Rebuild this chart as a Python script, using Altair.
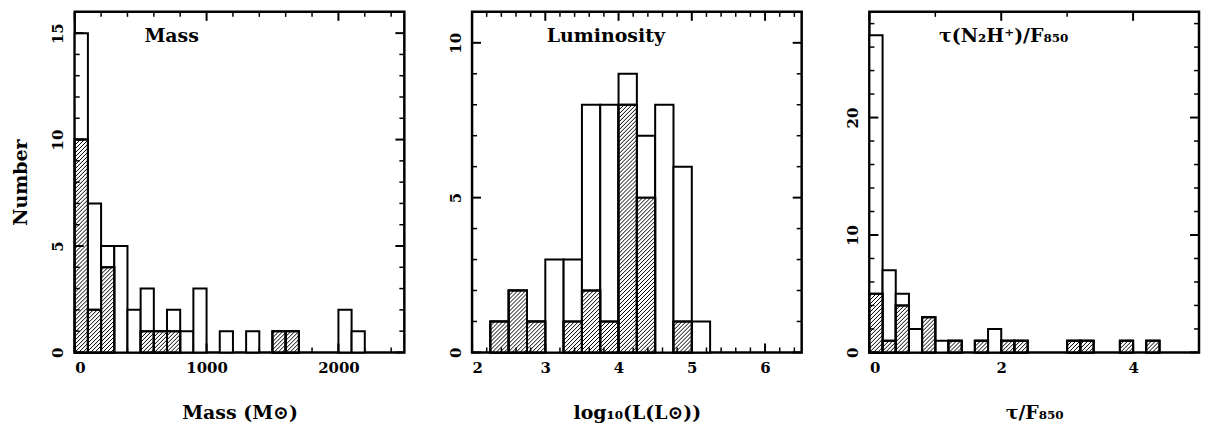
import altair as alt
import pandas as pd
import numpy as np

# ---------------- data ----------------
# Mass histogram (bin width 100 Msun)
mass_bins = [0, 100, 200, 300, 400, 500, 600, 700, 800, 900, 1100, 1300, 1500, 1600, 2000, 2100]
mass_total = [15, 7, 5, 5, 2, 3, 1, 2, 1, 3, 1, 1, 1, 1, 2, 1]
mass_hatch_bins = [0, 100, 200, 500, 600, 700, 1500, 1600]
mass_hatch = [10, 2, 4, 1, 1, 1, 1, 1]

# Luminosity histogram (bin width 0.25 dex)
lum_bins = [2.25, 2.5, 2.75, 3.0, 3.25, 3.5, 3.75, 4.0, 4.25, 4.5, 4.75, 5.0]
lum_total = [1, 2, 1, 3, 3, 8, 8, 9, 7, 8, 6, 1]
lum_hatch = [1, 2, 1, 0, 1, 2, 1, 8, 5, 0, 1, 0]

# tau(N2H+)/F850 histogram (bin width 0.2)
tau_bins = [0, 0.2, 0.4, 0.6, 0.8, 1.0, 1.2, 1.6, 1.8, 2.0, 2.2, 3.0, 3.2, 3.8, 4.2]
tau_total = [27, 7, 5, 2, 3, 1, 1, 1, 2, 1, 1, 1, 1, 1, 1]
tau_hatch = [5, 1, 4, 0, 3, 0, 1, 1, 0, 1, 1, 1, 1, 1, 1]

# axis labels / ticks
mass_xlabels = [0, 1000, 2000]
mass_xminor = [200, 400, 600, 800, 1200, 1400, 1600, 1800, 2200, 2400]
mass_ylabels = [0, 5, 10, 15]
mass_yminor = [1, 2, 3, 4, 6, 7, 8, 9, 11, 12, 13, 14, 16]

lum_xlabels = [2, 3, 4, 5, 6]
lum_xminor = [2.2, 2.4, 2.6, 2.8, 3.2, 3.4, 3.6, 3.8, 4.2, 4.4, 4.6, 4.8, 5.2, 5.4, 5.6, 5.8, 6.2, 6.4]
lum_ylabels = [0, 5, 10]
lum_yminor = [1, 2, 3, 4, 6, 7, 8, 9, 11]

tau_xlabels = [0, 2, 4]
tau_xminor = [1, 3]
tau_ylabels = [0, 10, 20]
tau_yminor = [2, 4, 6, 8, 12, 14, 16, 18, 22, 24, 26, 28]

FONT = "DejaVu Serif"
W, H = 331, 342
MAJ, MIN = 9, 5


def bars(starts, counts, width):
    df = pd.DataFrame({"x0": starts, "n": counts})
    df["x1"] = df["x0"] + width
    df["base"] = 0
    return df[df["n"] > 0]


def hatch_segments(df, xdom, ydom, spacing=4.0):
    pxx = W / (xdom[1] - xdom[0])
    pxy = H / (ydom[1] - ydom[0])
    rows = []
    for _, r in df.iterrows():
        L = (r["x0"] - xdom[0]) * pxx
        R = (r["x1"] - xdom[0]) * pxx
        T = r["n"] * pxy
        kmin = int(np.floor(-R / spacing))
        kmax = int(np.ceil((T - L) / spacing))
        for k in range(kmin, kmax + 1):
            d = k * spacing
            xs = max(L, -d)
            xe = min(R, T - d)
            if xe - xs > 0.3:
                rows.append({
                    "xa": xs / pxx + xdom[0], "ya": (xs + d) / pxy,
                    "xb": xe / pxx + xdom[0], "yb": (xe + d) / pxy,
                })
    return pd.DataFrame(rows)


def panel(starts, total, hstarts, hcounts, width, xdom, ydom, xlabels, xminor,
          ylabels, yminor, xtitle, ytitle, label, label_x):
    xs = alt.Scale(domain=xdom, nice=False, zero=False)
    ys = alt.Scale(domain=ydom, nice=False, zero=False)
    xax = alt.Axis(values=xlabels, format="d", title=xtitle)
    if ytitle:
        yax = alt.Axis(values=ylabels, format="d", title=ytitle)
    else:
        yax = alt.Axis(values=ylabels, format="d", title=None)

    def X(f):
        return alt.X(f, scale=xs, axis=xax)

    def Y(f):
        return alt.Y(f, scale=ys, axis=yax)

    tdf = bars(starts, total, width)
    hdf = bars(hstarts, hcounts, width)
    seg = hatch_segments(hdf, xdom, ydom)

    tot = alt.Chart(tdf).mark_rect(fill="white", stroke="black", strokeWidth=2).encode(
        x=X("x0:Q"), x2="x1:Q", y=Y("base:Q"), y2="n:Q",
    )
    hrect = alt.Chart(hdf).mark_rect(fill="white", stroke="black", strokeWidth=2).encode(
        x=X("x0:Q"), x2="x1:Q", y=Y("base:Q"), y2="n:Q",
    )
    hlines = alt.Chart(seg).mark_rule(color="black", strokeWidth=1).encode(
        x=X("xa:Q"), x2="xb:Q", y=Y("ya:Q"), y2="yb:Q",
    )
    hout = alt.Chart(hdf).mark_rect(fill="transparent", stroke="black", strokeWidth=2).encode(
        x=X("x0:Q"), x2="x1:Q", y=Y("base:Q"), y2="n:Q",
    )
    txt = alt.Chart(pd.DataFrame({"t": [label]})).mark_text(
        align="left", baseline="alphabetic", font=FONT, fontSize=19, fontWeight="bold", color="black"
    ).encode(x=alt.value(label_x), y=alt.value(30), text="t:N")

    def ticks(vals, channel, length):
        df = pd.DataFrame({"v": vals})
        base = alt.Chart(df).mark_rule(color="black", strokeWidth=2 if length == MAJ else 1.5)
        if channel == "x":
            return [
                base.encode(x=X("v:Q"), y=alt.value(H), y2=alt.value(H - length)),
                base.encode(x=X("v:Q"), y=alt.value(0), y2=alt.value(length)),
            ]
        return [
            base.encode(y=Y("v:Q"), x=alt.value(0), x2=alt.value(length)),
            base.encode(y=Y("v:Q"), x=alt.value(W), x2=alt.value(W - length)),
        ]

    layers = [tot, hrect, hlines, hout]
    layers += ticks(xlabels, "x", MAJ)
    layers += ticks(xminor, "x", MIN)
    layers += ticks(ylabels, "y", MAJ)
    layers += ticks(yminor, "y", MIN)
    layers.append(txt)
    return alt.layer(*layers).properties(width=W, height=H)


p1 = panel(mass_bins, mass_total, mass_hatch_bins, mass_hatch, 100, [0, 2500], [0, 16],
           mass_xlabels, mass_xminor, mass_ylabels, mass_yminor,
           "Mass (M⊙)", "Number", "Mass", 70)
p2 = panel(lum_bins, lum_total, lum_bins, lum_hatch, 0.25, [2, 6.5], [0, 11],
           lum_xlabels, lum_xminor, lum_ylabels, lum_yminor,
           "log₁₀(L(L⊙))", None, "Luminosity", 75)
p3 = panel(tau_bins, tau_total, tau_bins, tau_hatch, 0.2, [0, 5], [0, 29],
           tau_xlabels, tau_xminor, tau_ylabels, tau_yminor,
           "τ/F₈₅₀", None, "τ(N₂H⁺)/F₈₅₀", 70)

chart = alt.hconcat(p1, p2, p3, spacing=39).properties(
    padding={"left": 2, "top": 0, "right": 0, "bottom": 0}
).configure_view(
    stroke="black", strokeWidth=2.5
).configure_axis(
    domain=False, ticks=False, tickSize=0, grid=False,
    labelFont=FONT, labelFontSize=15, labelFontWeight="bold", labelColor="black",
    titleFont=FONT, titleFontSize=19, titleFontWeight="bold", titleColor="black",
).configure_axisX(
    labelPadding=8, titlePadding=28,
).configure_axisY(
    labelAngle=270, labelAlign="center", labelBaseline="bottom", labelPadding=9, titlePadding=20,
)

chart.save("out.html", embed_options={"renderer": "svg", "actions": False})
